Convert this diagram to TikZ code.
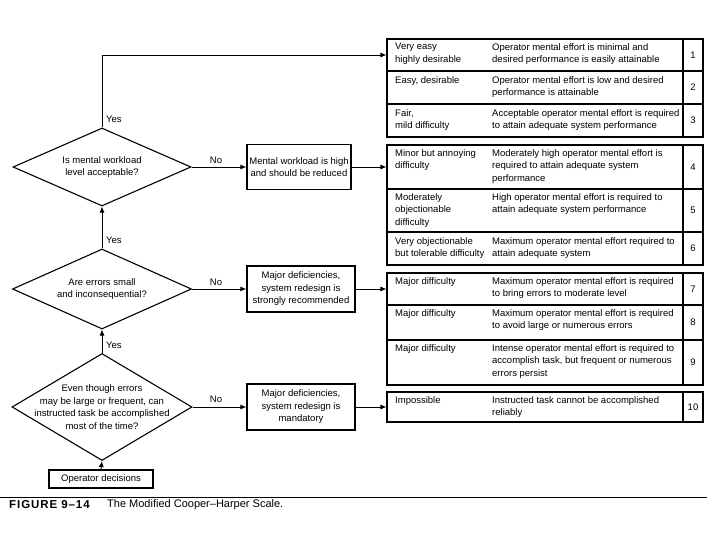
\documentclass[tikz,border=0pt]{standalone}
\usepackage{fontspec}
\setmainfont{Liberation Sans}
\usepackage{tikz}
\usetikzlibrary{shapes.geometric,arrows.meta}

\begin{document}
\begin{tikzpicture}[x=1pt,y=-1pt,
    every node/.style={font=\fontsize{9.5}{12.5}\selectfont},
    dia/.style={shape=diamond,draw=black,line width=1.1pt,inner sep=0pt},
    box/.style={shape=rectangle,draw=black,line width=1.2pt,align=center,inner sep=2pt},
    cell/.style={shape=rectangle,draw=black,line width=1.1pt,minimum width=296,inner sep=0pt},
    numcell/.style={shape=rectangle,draw=black,line width=1.1pt,minimum width=20,inner sep=0pt},
    txt/.style={anchor=north west,align=left,inner sep=0pt},
    lbl/.style={inner sep=0pt},
    arr/.style={line width=0.9pt,-{Latex[length=6pt,width=5pt]}}]
    \useasboundingbox (0,0) rectangle (720,540);

    % decisions
    \node[dia,minimum width=178,minimum height=78] (D1) at (102,167) {};
    \node[align=center] (Q1) at (D1.center) {Is mental workload\\level acceptable?};
    \node[dia,minimum width=179,minimum height=80] (D2) at (102,289) {};
    \node[align=center] (Q2) at (D2.center) {Are errors small\\and inconsequential?};
    \node[dia,minimum width=180,minimum height=107] (D3) at (102,407) {};
    \node[align=center] (Q3) at (D3.center) {Even though errors\\may be large or frequent, can\\instructed task be accomplished\\most of the time?};
    \node[box,minimum width=104,minimum height=18] (OP) at (101,479) {Operator decisions};

    % outcomes
    \node[box,minimum width=104,minimum height=45] (B1) at (299,167) {Mental workload is high\\and should be reduced};
    \node[box,minimum width=108,minimum height=46] (B2) at (301,289) {Major deficiencies,\\system redesign is\\strongly recommended};
    \node[box,minimum width=108,minimum height=46] (B3) at (301,407) {Major deficiencies,\\system redesign is\\mandatory};

    % rating table
    \node[cell,minimum height=32] (R1) at (535,55) {};
    \node[numcell,minimum height=32] (N1) at (693,55) {1};
    \node[cell,minimum height=33] (R2) at (535,87.5) {};
    \node[numcell,minimum height=33] (N2) at (693,87.5) {2};
    \node[cell,minimum height=33] (R3) at (535,120.5) {};
    \node[numcell,minimum height=33] (N3) at (693,120.5) {3};

    \node[cell,minimum height=44] (R4) at (535,167) {};
    \node[numcell,minimum height=44] (N4) at (693,167) {4};
    \node[cell,minimum height=43] (R5) at (535,210.5) {};
    \node[numcell,minimum height=43] (N5) at (693,210.5) {5};
    \node[cell,minimum height=33] (R6) at (535,248.5) {};
    \node[numcell,minimum height=33] (N6) at (693,248.5) {6};

    \node[cell,minimum height=32] (R7) at (535,289) {};
    \node[numcell,minimum height=32] (N7) at (693,289) {7};
    \node[cell,minimum height=35] (R8) at (535,322.5) {};
    \node[numcell,minimum height=35] (N8) at (693,322.5) {8};
    \node[cell,minimum height=45] (R9) at (535,362.5) {};
    \node[numcell,minimum height=45] (N9) at (693,362.5) {9};

    \node[cell,minimum height=30] (R10) at (535,407) {};
    \node[numcell,minimum height=30] (N10) at (693,407) {10};

    \node[txt] (L1) at (395,43) {Very easy\\highly desirable};
    \node[txt] (T1) at (492,43) {Operator mental effort is minimal and\\desired performance is easily attainable};
    \node[txt] (L2) at (395,76) {Easy, desirable};
    \node[txt] (T2) at (492,76) {Operator mental effort is low and desired\\performance is attainable};
    \node[txt] (L3) at (395,109) {Fair,\\mild difficulty};
    \node[txt] (T3) at (492,109) {Acceptable operator mental effort is required\\to attain adequate system performance};
    \node[txt] (L4) at (395,149) {Minor but annoying\\difficulty};
    \node[txt] (T4) at (492,149) {Moderately high operator mental effort is\\required to attain adequate system\\performance};
    \node[txt] (L5) at (395,193) {Moderately\\objectionable\\difficulty};
    \node[txt] (T5) at (492,193) {High operator mental effort is required to\\attain adequate system performance};
    \node[txt] (L6) at (395,237) {Very objectionable\\but tolerable difficulty};
    \node[txt] (T6) at (492,237) {Maximum operator mental effort required to\\attain adequate system};
    \node[txt] (L7) at (395,277) {Major difficulty};
    \node[txt] (T7) at (492,277) {Maximum operator mental effort is required\\to bring errors to moderate level};
    \node[txt] (L8) at (395,309) {Major difficulty};
    \node[txt] (T8) at (492,309) {Maximum operator mental effort is required\\to avoid large or numerous errors};
    \node[txt] (L9) at (395,344) {Major difficulty};
    \node[txt] (T9) at (492,344) {Intense operator mental effort is required to\\accomplish task, but frequent or numerous\\errors persist};
    \node[txt] (L10) at (395,396) {Impossible};
    \node[txt] (T10) at (492,396) {Instructed task cannot be accomplished\\reliably};

    % labels
    \node[lbl,anchor=west] (Y1) at (106,119) {Yes};
    \node[lbl,anchor=west] (Y2) at (106,240) {Yes};
    \node[lbl,anchor=west] (Y3) at (106,345) {Yes};
    \node[lbl] (NO1) at (216,160) {No};
    \node[lbl] (NO2) at (216,282) {No};
    \node[lbl] (NO3) at (216,399) {No};

    % connectors
    \draw[arr] (D1.north) |- (R1.west);
    \draw[arr] (D2.north) to (D1.south);
    \draw[arr] (D3.north) to (D2.south);
    \draw[arr] (OP.north) to (D3.south);
    \draw[arr] (D1.east) to (B1.west);
    \draw[arr] (D2.east) to (B2.west);
    \draw[arr] (D3.east) to (B3.west);
    \draw[arr] (B1.east) to (R4.west);
    \draw[arr] (B2.east) to (R7.west);
    \draw[arr] (B3.east) to (R10.west);

    % caption
    \draw[line width=0.9pt] (0,497) -- (707,497);
    \node[anchor=west,inner sep=0pt,font=\fontsize{11.5}{13}\selectfont\bfseries\addfontfeatures{LetterSpace=8}] (FIG) at (9,505) {FIGURE 9\textendash14};
    \node[anchor=west,inner sep=0pt,font=\fontsize{11}{13}\selectfont] (CAP) at (107,505) {The Modified Cooper\textendash Harper Scale.};
\end{tikzpicture}
\end{document}
